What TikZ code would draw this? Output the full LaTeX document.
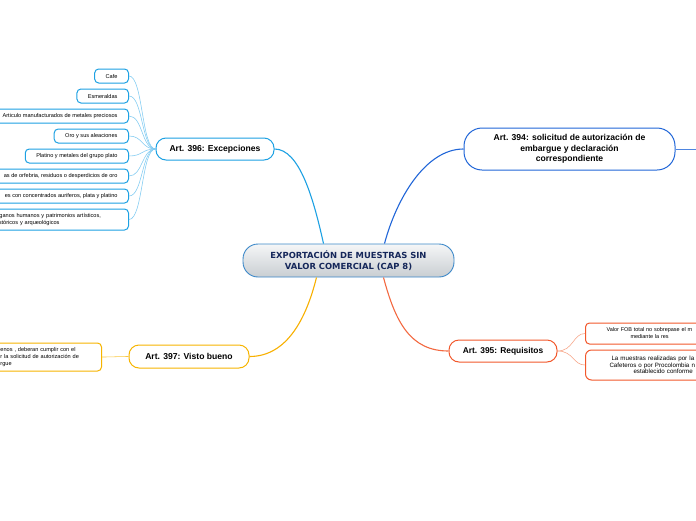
\documentclass[tikz,border=0pt]{standalone}
\usepackage{fontspec}
\setmainfont{Liberation Sans}
\newfontfamily\verdfont{DejaVu Sans}
\usetikzlibrary{calc}
\definecolor{cblue}{HTML}{2166D8}
\definecolor{csky}{HTML}{1DA1E3}
\definecolor{cskyl}{HTML}{7FCBF2}
\definecolor{cyel}{HTML}{F7B500}
\definecolor{cyell}{HTML}{FAC840}
\definecolor{cred}{HTML}{F2582C}
\definecolor{credl}{HTML}{F7A283}
\definecolor{cbord}{HTML}{3C88C9}
\definecolor{cnavy}{HTML}{15275A}
\definecolor{ctop}{HTML}{F5F6F7}
\definecolor{cbot}{HTML}{C9CED2}
\begin{document}
\begin{tikzpicture}[x=1pt,y=-1pt,
  branch/.style={draw, fill=white, line width=1pt, rounded corners=10pt,
    font=\bfseries\fontsize{8.6}{10}\selectfont, inner sep=2pt},
  leaf/.style={draw, fill=white, line width=1pt, rounded corners=4pt,
    font=\fontsize{5.6}{7}\selectfont, inner xsep=11pt, inner ysep=1pt,
    minimum height=14pt, anchor=east},
  mainline/.style={line width=1.1pt},
  thinline/.style={line width=0.55pt}
]
\clip (0,0) rectangle (696,520);
\fill[white] (0,0) rectangle (696,520);

% central
\node[draw=cbord, line width=0.9pt, rounded corners=15pt, top color=ctop, bottom color=cbot,
  minimum width=211pt, minimum height=33pt, align=center, text=cnavy,
  font=\verdfont\bfseries\fontsize{8.4}{10.5}\selectfont] (c) at (348.5,260.5)
  {EXPORTACIÓN DE MUESTRAS SIN\\VALOR COMERCIAL (CAP 8)};

% main branches
\node[branch, draw=cblue, rounded corners=18pt, minimum width=211pt, minimum height=42pt,
  align=center, font=\bfseries\fontsize{8.6}{10.5}\selectfont] (a394) at (569.5,149)
  {Art. 394: solicitud de autorización de\\embargue y declaración\\correspondiente};
\node[branch, draw=csky, minimum width=118pt, minimum height=22pt] (a396) at (215,149) {Art. 396: Excepciones};
\node[branch, draw=cyel, minimum width=120pt, minimum height=23pt] (a397) at (189,356.5) {Art. 397: Visto bueno};
\node[branch, draw=cred, minimum width=108pt, minimum height=22pt,
  font=\bfseries\fontsize{8.4}{10}\selectfont] (a395) at (503,351) {Art. 395: Requisitos};

% connectors from centre
\draw[mainline, cblue] ($(c.north)+(36,0)$) .. controls +(12,-45) and +(-38,0) .. (a394.west);
\coordinate (off394) at (720,149);
\draw[thinline, cblue!80] (a394.east) -- (off394);
\draw[mainline, csky] ($(c.north)+(-25,0)$) .. controls +(-10,-45) and +(25,0) .. (a396.east);
\draw[mainline, cyel!90!orange] ($(c.south)+(-32,0)$) .. controls +(-10,40) and +(38,0) .. (a397.east);
\draw[mainline, cred!90] ($(c.south)+(35,0)$) .. controls +(12,45) and +(-38,0) .. (a395.west);

% leaves of 396
\node[leaf, draw=csky] (e1) at (129,76) {Cafe};
\node[leaf, draw=csky] (e2) at (129,96) {Esmeraldas};
\node[leaf, draw=csky] (e3) at (129,116) {Articulo manufacturados de metales preciosos};
\node[leaf, draw=csky] (e4) at (129,136) {Oro y sus aleaciones};
\node[leaf, draw=csky] (e5) at (129,156) {Platino y metales del grupo plato};
\node[leaf, draw=csky] (e6) at (129,176) {as de orfebria, residuos o desperdicios de oro};
\node[leaf, draw=csky] (e7) at (129,196) {es con concentrados auriferos, plata y platino};
\node[leaf, draw=csky, text width=123pt, align=left, minimum height=21pt] (e8) at (129,219.5)
  {órganos humanos y patrimonios artísticos,\\históricos y arqueológicos};
\foreach \n in {e1,e2,e3,e4,e5,e6,e7,e8}
  \draw[thinline, cskyl] (a396.west) .. controls +(-14,0) and +(14,0) .. (\n.east);

% leaf of 397
\node[leaf, draw=cyel, text width=90pt, align=left, minimum height=28pt] (v1) at (102,357)
  {enos , deberan cumplir con el\\r la solicitud de autorización de\\rgue};
\draw[thinline, cyell] (a397.west) .. controls +(-10,0) and +(10,0) .. (v1.east);

% leaves of 395
\node[leaf, draw=cred, anchor=west, inner xsep=21pt, text width=200pt, align=left,
  minimum height=21pt, font=\fontsize{5.5}{7}\selectfont] (r1) at (585,333.5)
  {Valor FOB total no sobrepase el m\\\hspace*{24pt}mediante la res};
\node[leaf, draw=cred, anchor=west, inner xsep=24pt, text width=200pt, align=left,
  minimum height=30pt, rounded corners=6pt, font=\fontsize{6.2}{6.3}\selectfont] (r2) at (585,365)
  {\hspace*{2pt}La muestras realizadas por la\\Cafeteros o por Procolombia n\\\hspace*{24pt}establecido conforme};
\draw[thinline, credl] (a395.east) .. controls +(16,0) and +(-12,0) .. (r1.west);
\draw[thinline, credl] (a395.east) .. controls +(16,0) and +(-12,0) .. (r2.west);
\end{tikzpicture}
\end{document}
